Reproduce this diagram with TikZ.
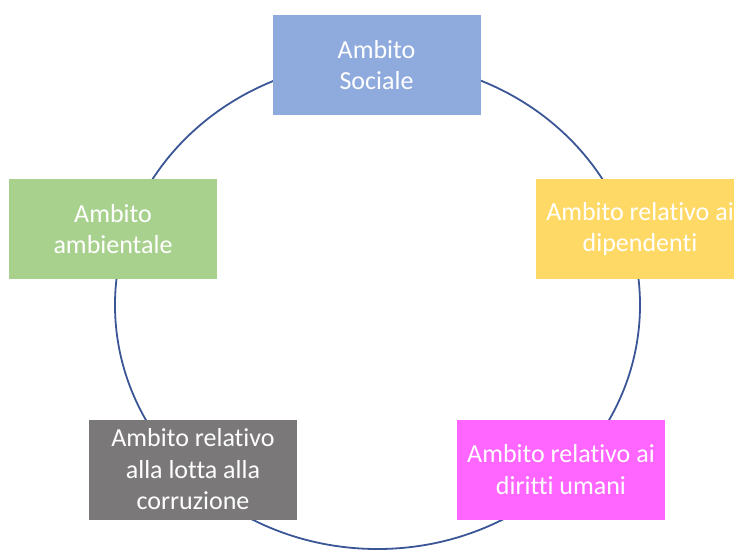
\documentclass[tikz,border=0pt]{standalone}
\usepackage{fontspec}
\setmainfont[Ligatures=NoCommon]{Carlito}
\definecolor{ringblue}{HTML}{3B5696}
\definecolor{cblue}{HTML}{8FAADC}
\definecolor{cgreen}{HTML}{A9D18E}
\definecolor{cyellow}{HTML}{FFD966}
\definecolor{cmagenta}{HTML}{FF66FF}
\definecolor{cgray}{HTML}{7A7878}
\begin{document}
\begin{tikzpicture}[x=1pt,y=-1pt,
  box/.style={rectangle, minimum width=208pt, minimum height=100pt, align=center,
    text=white, font=\fontsize{26}{31.5}\selectfont, inner sep=0pt}]
\useasboundingbox (0,0) rectangle (734,550);
\clip (0,0) rectangle (734,550);
\draw[color=ringblue, line width=1.8pt] (377.5,305) ellipse [x radius=262.5pt, y radius=244pt];
\node[box, fill=cblue] (soc) at (376.5,65) {Ambito\\Sociale};
\node[box, fill=cgreen] (amb) at (113,229) {Ambito\\ambientale};
\node[box, fill=cyellow] (dip) at (640,229) {Ambito relativo ai\\dipendenti};
\node[box, fill=cgray] (cor) at (193,469.5) {Ambito relativo\\alla lotta alla\\corruzione};
\node[box, fill=cmagenta] (dir) at (561,469.5) {Ambito relativo ai\\diritti umani};
\end{tikzpicture}
\end{document}
